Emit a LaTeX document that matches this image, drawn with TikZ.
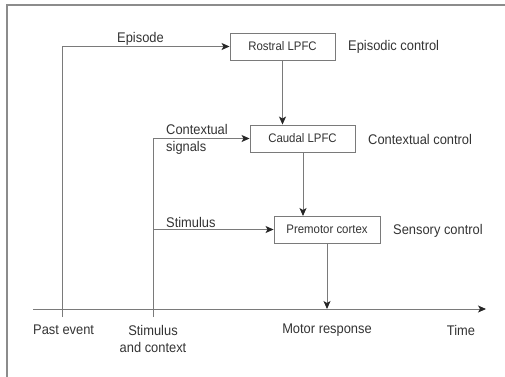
\documentclass[tikz,border=0pt]{standalone}
\usepackage{fontspec}
\setmainfont[FakeStretch=0.92]{Liberation Sans}
\usetikzlibrary{arrows.meta}
\definecolor{txt}{HTML}{333333}
\definecolor{ln}{HTML}{7A7A7A}
\definecolor{frm}{HTML}{8C8C8C}
\begin{document}
\begin{tikzpicture}[x=1pt,y=-1pt,
  every node/.style={text=txt,font=\fontsize{14}{17}\selectfont},
  area/.style={draw=ln,line width=0.9pt,minimum height=27pt,inner sep=0pt,font=\fontsize{12.4}{15}\selectfont},
  conn/.style={draw=ln,line width=0.9pt},
  arr/.style={conn,-{Stealth[length=8pt,width=7pt,inset=2pt,color=black!85]}},
  lab/.style={inner sep=0pt}]
\useasboundingbox (0,0) rectangle (505,376);
\draw[frm,line width=2pt] (7,380) -- (7,5) -- (510,5);
% boxes
\node[area,minimum width=105pt] (ros) at (282.5,46.5) {Rostral LPFC};
\node[area,minimum width=105pt] (cau) at (302.5,138.5) {Caudal LPFC};
\node[area,minimum width=106pt] (pre) at (327,229.5) {Premotor cortex};
% right labels
\node[lab,anchor=west] (epc) at (348,47) {Episodic control};
\node[lab,anchor=west] (ctc) at (368,139) {Contextual control};
\node[lab,anchor=west] (snc) at (393,231) {Sensory control};
% axis
\coordinate (a0) at (33,309);
\coordinate (a1) at (486,309);
\draw[arr] (a0) -- (a1);
\coordinate (pe) at (62,317);
\coordinate (sc) at (153,317);
\coordinate (mr) at (327,309);
% inputs
\draw[arr] (pe) |- (ros.west);
\draw[arr] (sc) |- (cau.west);
\coordinate (sj) at (153,229.5);
\draw[arr] (sj) -- (pre.west);
\draw[arr] (ros.south) -- (ros.south |- cau.north);
\draw[arr] (cau.south -| 303,0) -- (303,216);
\draw[arr] (pre.south) -- (mr);
% input labels
\node[lab,anchor=west] (epi) at (117,39) {Episode};
\node[lab,anchor=west,align=left] (cs) at (166,139.5) {Contextual\\signals};
\node[lab,anchor=west] (st) at (166,222) {Stimulus};
% axis labels
\node[lab,anchor=west] (lpe) at (33,330) {Past event};
\node[lab,align=center] (lsc) at (153,339) {Stimulus\\and context};
\node[lab] (lmr) at (327,330) {Motor response};
\node[lab] (lti) at (461,330) {Time};
\end{tikzpicture}
\end{document}
